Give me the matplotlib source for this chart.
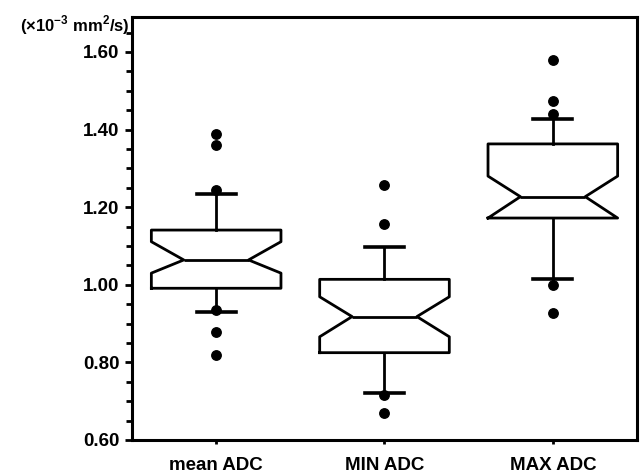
import matplotlib
matplotlib.use("Agg")
import matplotlib.pyplot as plt
from matplotlib.ticker import MultipleLocator

plt.rcParams['font.family'] = ['Liberation Sans', 'DejaVu Sans']
plt.rcParams['mathtext.fontset'] = 'custom'
plt.rcParams['mathtext.rm'] = 'Liberation Sans'
plt.rcParams['mathtext.bf'] = 'Liberation Sans:bold'

# values (x10^-3 mm^2/s)
labels = ["mean ADC", "MIN ADC", "MAX ADC"]
q1 = [0.991, 0.825, 1.172]
med = [1.064, 0.918, 1.227]
q3 = [1.141, 1.014, 1.363]
ci_lo = [1.030, 0.866, 1.172]
ci_hi = [1.111, 0.969, 1.280]
whis_lo = [0.931, 0.722, 1.014]
whis_hi = [1.233, 1.098, 1.427]
fliers = [
    [1.389, 1.360, 1.243, 0.935, 0.877, 0.819],
    [1.257, 1.157, 0.716, 0.670],
    [1.578, 1.474, 1.440, 0.999, 0.928],
]

stats = []
for i in range(len(labels)):
    stats.append(dict(label=labels[i], q1=q1[i], med=med[i], q3=q3[i],
                      cilo=ci_lo[i], cihi=ci_hi[i],
                      whislo=whis_lo[i], whishi=whis_hi[i],
                      fliers=fliers[i]))

fig = plt.figure(figsize=(6.42, 4.73), dpi=100)
ax = fig.add_axes([0.2056, 0.0698, 0.7866, 0.8942])

lw = 2.0
ax.bxp(stats, positions=[1, 2, 3], widths=0.77, capwidths=0.23,
       shownotches=True, showfliers=True,
       boxprops=dict(color='black', linewidth=lw),
       medianprops=dict(color='black', linewidth=lw),
       whiskerprops=dict(color='black', linewidth=lw),
       capprops=dict(color='black', linewidth=2.6),
       flierprops=dict(marker='o', markerfacecolor='black',
                       markeredgecolor='black', markersize=6.8))

ax.set_xlim(0.5, 3.5)
ax.set_ylim(0.60, 1.69)
ax.yaxis.set_major_locator(MultipleLocator(0.2))
ax.yaxis.set_minor_locator(MultipleLocator(0.05))
ax.set_yticklabels([f"{v:.2f}" for v in ax.get_yticks()])
ax.set_ylim(0.60, 1.69)

for s in ax.spines.values():
    s.set_linewidth(2.2)

ax.tick_params(axis='y', which='major', direction='out', length=5, width=2,
               labelsize=13.5, pad=4)
ax.tick_params(axis='y', which='minor', direction='out', length=4, width=2)
ax.tick_params(axis='x', direction='out', length=3, width=2,
               labelsize=13.5, pad=9)
for t in ax.get_xticklabels() + ax.get_yticklabels():
    t.set_fontweight('bold')

ax.text(-0.005, 0.981, r"(×10$^{\mathbf{-3}}$ mm$^{\mathbf{2}}$/s)",
        transform=ax.transAxes, ha='right', va='center',
        fontsize=12, fontweight='bold')

fig.savefig("out.png", dpi=100)
